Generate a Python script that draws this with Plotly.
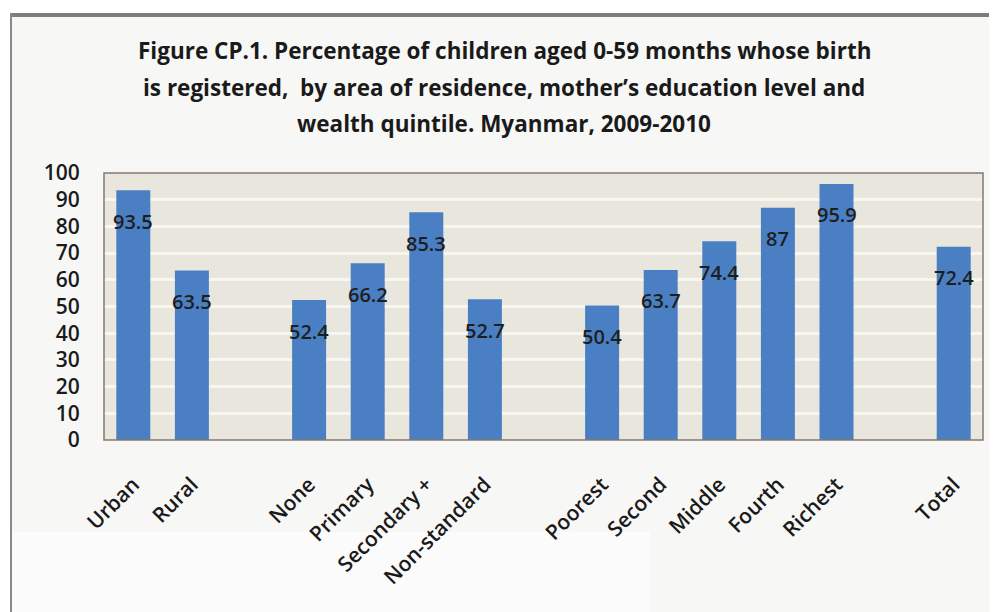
import plotly.graph_objects as go

# Data
residence = ["Urban", "Rural"]
residence_vals = [93.5, 63.5]
education = ["None", "Primary", "Secondary +", "Non-standard"]
education_vals = [52.4, 66.2, 85.3, 52.7]
wealth = ["Poorest", "Second", "Middle", "Fourth", "Richest"]
wealth_vals = [50.4, 63.7, 74.4, 87, 95.9]
total = ["Total"]
total_vals = [72.4]
y_ticks = [0, 10, 20, 30, 40, 50, 60, 70, 80, 90, 100]
title_lines = [
    "Figure CP.1. Percentage of children aged 0-59 months whose birth",
    "is registered,  by area of residence, mother\u2019s education level and",
    "wealth quintile. Myanmar, 2009-2010",
]

groups = [(residence, residence_vals), (education, education_vals),
          (wealth, wealth_vals), (total, total_vals)]

xs, labels, vals = [], [], []
pos = 0
for gi, (cats, v) in enumerate(groups):
    if gi > 0:
        pos += 1  # empty slot between groups
    for c, val in zip(cats, v):
        xs.append(pos)
        labels.append(c)
        vals.append(val)
        pos += 1
last_x = xs[-1]

# page body has an 8px margin; work in viewport pixels and convert
OFF = 8
W, H = 997 - OFF, 612 - OFF
L, T = 104 - OFF, 173 - OFF
R = W - (983 - OFF)
B = H - (440 - OFF)
plot_w = W - L - R
plot_h = H - T - B


def xp(vx):
    return (vx - OFF - L) / plot_w


def yp(vy):
    return (H - B - (vy - OFF)) / plot_h


FONT = "Open Sans"
fig = go.Figure()
fig.add_trace(go.Bar(
    x=xs, y=vals, width=0.58,
    marker=dict(color="#4a7fc4", line=dict(width=0)),
    hoverinfo="x+y",
))

ann = []
for x, v in zip(xs, vals):
    ann.append(dict(x=x, y=v, xref="x", yref="y", text=f"{v:g}", showarrow=False,
                    yshift=-31, font=dict(family=FONT, size=20, color="#1e1e1e", weight=600)))

title_y_px = [50, 87, 123]
for line, vy in zip(title_lines, title_y_px):
    ann.append(dict(x=xp(504), xref="paper", y=yp(vy), yref="paper",
                    text=f"<b>{line}</b>", showarrow=False, xanchor="center", yanchor="middle",
                    font=dict(family=FONT, size=22.5, color="#1a1a1a")))

shapes = [
    # white margins outside the scanned frame
    dict(type="rect", xref="paper", yref="paper", x0=xp(0), x1=xp(997), y0=yp(13), y1=yp(0),
         fillcolor="#ffffff", line=dict(width=0), layer="below"),
    dict(type="rect", xref="paper", yref="paper", x0=xp(0), x1=xp(10), y0=yp(612), y1=yp(0),
         fillcolor="#ffffff", line=dict(width=0), layer="below"),
    # lighter patch lower-left
    dict(type="rect", xref="paper", yref="paper", x0=xp(12), x1=xp(650), y0=yp(612), y1=yp(532),
         fillcolor="#fbfbfb", line=dict(width=0), layer="below"),
    # frame lines
    dict(type="line", xref="paper", yref="paper", x0=xp(10), x1=xp(997), y0=yp(15), y1=yp(15),
         line=dict(color="#7c7c7c", width=4)),
    dict(type="line", xref="paper", yref="paper", x0=xp(11), x1=xp(11), y0=yp(13), y1=yp(612),
         line=dict(color="#8a8a8a", width=2)),
    # plot area border
    dict(type="rect", xref="paper", yref="paper", x0=0, x1=1, y0=0, y1=1,
         line=dict(color="#85786f", width=1.5), fillcolor="rgba(0,0,0,0)", layer="above"),
]

fig.update_layout(
    width=W, height=H,
    margin=dict(l=L, r=R, t=T, b=B, pad=0),
    paper_bgcolor="#f7f7f6",
    plot_bgcolor="#e9e6de",
    showlegend=False,
    annotations=ann,
    shapes=shapes,
    xaxis=dict(
        range=[-0.5, last_x + 0.5],
        tickmode="array", tickvals=xs, ticktext=labels,
        tickangle=-45,
        tickfont=dict(family=FONT, size=21, color="#1a1a1a", weight=600),
        ticks="outside", ticklen=23, tickcolor="rgba(0,0,0,0)",
        showgrid=False, zeroline=False, showline=False,
    ),
    yaxis=dict(
        range=[0, 100],
        tickmode="array", tickvals=y_ticks,
        tickfont=dict(family=FONT, size=21, color="#1a1a1a", weight=600),
        ticks="outside", ticklen=19, tickcolor="rgba(0,0,0,0)",
        showgrid=True, gridcolor="#f7f6f1", gridwidth=3,
        zeroline=False, showline=False,
    ),
)

fig.write_html("out.html")
